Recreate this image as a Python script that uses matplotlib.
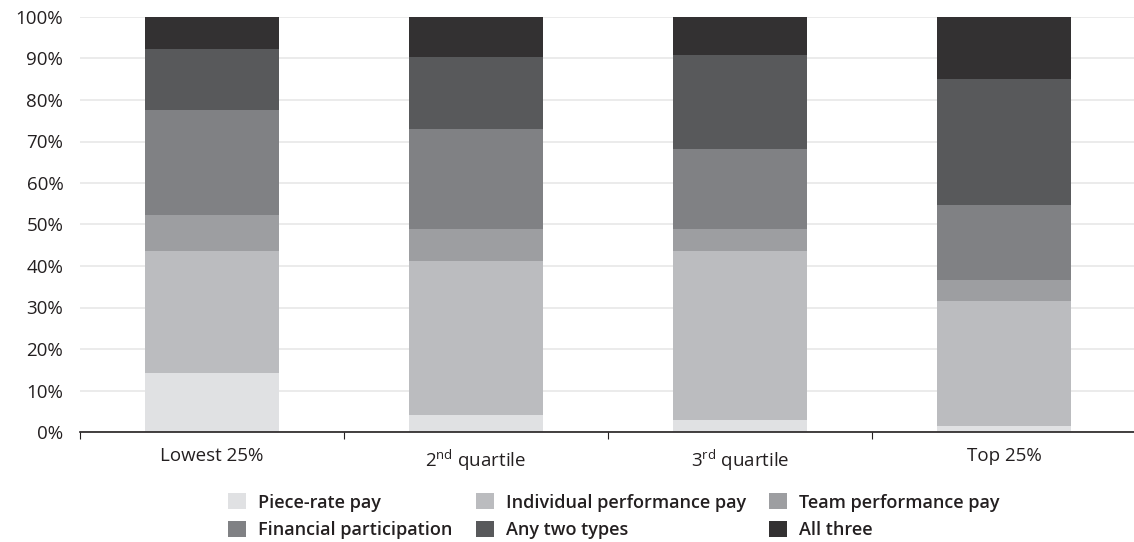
import numpy as np
import matplotlib
matplotlib.use("Agg")
import matplotlib.pyplot as plt

plt.rcParams['font.family'] = ['Open Sans', 'DejaVu Sans']
plt.rcParams['mathtext.fontset'] = 'custom'
plt.rcParams['mathtext.rm'] = 'Open Sans'

categories = ["Lowest 25%", "2$^{\\mathrm{nd}}$ quartile", "3$^{\\mathrm{rd}}$ quartile", "Top 25%"]
series_names = ["Piece-rate pay", "Individual performance pay", "Team performance pay",
                "Financial participation", "Any two types", "All three"]
piece_rate = [14.3, 4.0, 2.8, 1.5]
individual = [29.4, 37.3, 40.9, 30.1]
team = [8.5, 7.7, 5.3, 5.1]
financial = [25.3, 24.0, 19.3, 18.1]
any_two = [14.8, 17.3, 22.5, 30.2]
all_three = [7.7, 9.7, 9.2, 15.0]
colors = ["#e0e1e3", "#bbbcbf", "#9d9ea1", "#808184", "#58595b", "#333132"]

series = [piece_rate, individual, team, financial, any_two, all_three]

fig = plt.figure(figsize=(11.34, 5.42), dpi=100)
ax = fig.add_axes([80 / 1134, 1 - 432 / 542, 1056 / 1134, 415 / 542])

x = np.arange(len(categories))
bottom = np.zeros(len(categories))
handles = []
for name, vals, c in zip(series_names, series, colors):
    b = ax.bar(x, vals, bottom=bottom, width=0.51, color=c, label=name, zorder=3)
    handles.append(b)
    bottom += np.array(vals)

ax.set_xlim(-0.5, len(categories) - 0.5)
ax.set_ylim(0, 100)
ax.set_yticks(np.arange(0, 101, 10))
ax.set_yticklabels([f"{v}%" for v in range(0, 101, 10)], fontsize=13.5, color="#231f20")
ax.yaxis.grid(True, color="#e8e8e8", linewidth=1.2, zorder=0)
ax.tick_params(axis="y", length=0, pad=12)

ax.set_xticks(x)
ax.set_xticklabels(categories, fontsize=13.5, color="#231f20")
ax.set_xticks(np.arange(-0.5, len(categories), 1), minor=True)
ax.tick_params(axis="x", which="major", length=0, pad=11)
ax.tick_params(axis="x", which="minor", length=5, width=0.8, color="#231f20")

for s in ["left", "right", "top"]:
    ax.spines[s].set_visible(False)
ax.spines["bottom"].set_color("#231f20")
ax.spines["bottom"].set_linewidth(1.2)
ax.spines["bottom"].set_zorder(4)

order = [0, 3, 1, 4, 2, 5]
leg = fig.legend([handles[i] for i in order], [series_names[i] for i in order],
                 ncol=3, frameon=False, loc="upper left",
                 bbox_to_anchor=(212 / 1134, 1 - 477 / 542),
                 handlelength=1.0, handleheight=1.0, handletextpad=0.65,
                 columnspacing=1.3, labelspacing=0.5,
                 prop={"size": 13, "weight": "semibold"})
for t in leg.get_texts():
    t.set_color("#231f20")

fig.savefig("out.png", dpi=100)
